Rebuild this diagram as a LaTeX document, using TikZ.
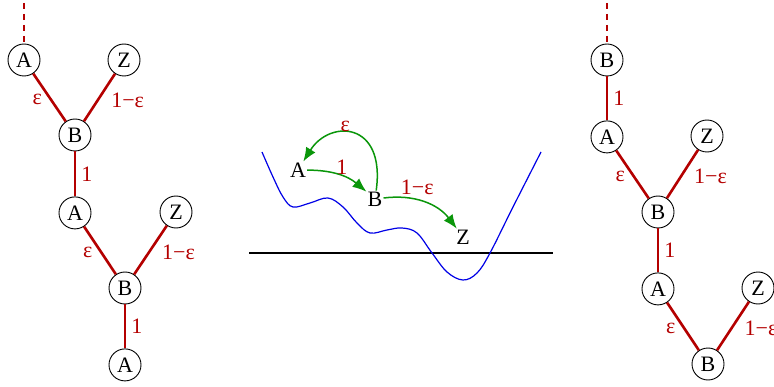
\documentclass[tikz,border=0pt]{standalone}
\usepackage{fontspec}
\setmainfont{Liberation Serif}
\usetikzlibrary{positioning, arrows.meta}
\definecolor{ink}{HTML}{000000}
\definecolor{branch}{HTML}{B40000}
\definecolor{hop}{HTML}{0A960A}
\definecolor{energy}{HTML}{0000E6}
\tikzset{
  every node/.style = {font=\fontsize{22}{26}\selectfont, text=ink},
  stbase/.style  = {circle, draw=ink, line width=0.9pt, fill=white, inner sep=0pt, minimum size=32pt},
  stfree/.style  = {inner sep=1pt},
  trline/.style  = {draw=branch, line width=2.6pt},
  trcut/.style   = {trline, dash pattern=on 6pt off 5pt},
  trlab/.style   = {text=branch, inner sep=1pt},
  hopgo/.style   = {-{Latex[length=14pt,width=11pt]}, draw=hop, line width=1.5pt},
  landscape/.style = {draw=energy, line width=1.2pt},
  ground/.style  = {draw=ink, line width=1.1pt},
}

\begin{document}
\begin{tikzpicture}[x=1pt, y=1pt]
\useasboundingbox (0,0) rectangle (774,386);

% left chain
\coordinate (lTop) at (24,383);
\node[stbase] (lA1) at (24,326) {A};
\node[stbase] (lZ1) at (124,326) {Z};
\node[stbase] (lB1) at (75,251) {B};
\node[stbase, below=45pt of lB1] (lA2) {A};
\node[stbase] (lZ2) at (176,174) {Z};
\node[stbase] (lB2) at (125,98) {B};
\node[stbase, below=44pt of lB2] (lA3) {A};

\draw[trcut] (lTop) -- (lA1);
\draw[trline] (lA1) -- node[trlab, pos=.55, left=7pt] {ε} (lB1);
\draw[trline] (lZ1) -- node[trlab, pos=.55, right=11pt] {1−ε} (lB1);
\draw[trline] (lB1) -- node[trlab, right=4pt] {1} (lA2);
\draw[trline] (lA2) -- node[trlab, pos=.55, left=7pt] {ε} (lB2);
\draw[trline] (lZ2) -- node[trlab, pos=.55, right=11pt] {1−ε} (lB2);
\draw[trline] (lB2) -- node[trlab, right=4pt] {1} (lA3);

% landscape
\coordinate (gL) at (249,133);
\coordinate (gR) at (553,133);
\draw[ground] (gL) -- (gR);
\draw[landscape] plot[smooth, tension=0.6] coordinates {
  (262,234) (273,209) (283,189) (293,179) (310,183) (328,188) (343,179)
  (357,163) (370,153) (387,156) (402,158) (417,153) (432,133) (447,114)
  (463,106) (477,113) (490,133) (513,179) (541,234)};

\node[stfree] (mA) at (298,216) {A};
\node[stfree] (mB) at (375,187) {B};
\node[stfree] (mZ) at (463,149) {Z};

\draw[hopgo] (mA) to[bend left=20] node[trlab, above, pos=.55] {1} (mB);
\draw[hopgo] (mB) to[out=82, in=58, out distance=70pt, in distance=50pt]
  node[trlab, above, pos=.58] {ε} (mA);
\draw[hopgo] (mB) to[bend left=30] node[trlab, above=4pt, pos=.4] {1−ε} (mZ);

% right chain
\coordinate (rTop) at (607,383);
\node[stbase] (rB1) at (607,326) {B};
\node[stbase, below=44pt of rB1] (rA1) {A};
\node[stbase] (rZ1) at (707,250) {Z};
\node[stbase] (rB2) at (658,174) {B};
\node[stbase, below=44pt of rB2] (rA2) {A};
\node[stbase] (rZ2) at (758,98) {Z};
\node[stbase] (rB3) at (708,22) {B};

\draw[trcut] (rTop) -- (rB1);
\draw[trline] (rB1) -- node[trlab, right=4pt] {1} (rA1);
\draw[trline] (rA1) -- node[trlab, pos=.55, left=7pt] {ε} (rB2);
\draw[trline] (rZ1) -- node[trlab, pos=.55, right=11pt] {1−ε} (rB2);
\draw[trline] (rB2) -- node[trlab, right=4pt] {1} (rA2);
\draw[trline] (rA2) -- node[trlab, pos=.55, left=7pt] {ε} (rB3);
\draw[trline] (rZ2) -- node[trlab, pos=.55, right=11pt] {1−ε} (rB3);
\end{tikzpicture}
\end{document}
